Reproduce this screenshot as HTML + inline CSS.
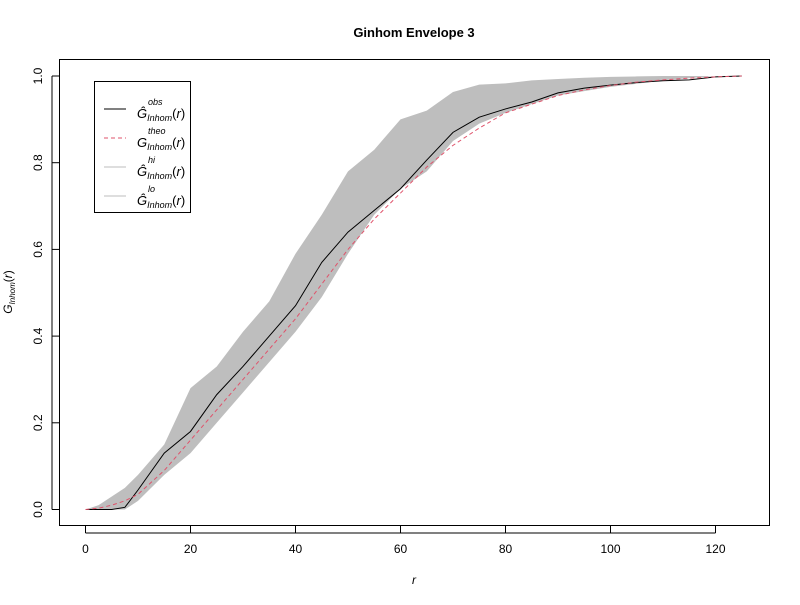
<!DOCTYPE html>
<html><head><meta charset="utf-8"><style>
body{margin:0;background:#fff}
svg text{font-family:"Liberation Sans",Arial,sans-serif}
</style></head><body>
<svg id="chart" width="800" height="600" xmlns="http://www.w3.org/2000/svg">
<rect width="800" height="600" fill="#fff"/>
<text x="414" y="37" text-anchor="middle" font-size="13" font-weight="bold">Ginhom Envelope 3</text>
<g id="plot"></g>
<rect x="59.5" y="59.5" width="710" height="466" fill="none" stroke="#000"/>
<g id="axes" font-size="12"></g>
<text x="414" y="584" text-anchor="middle" font-size="12" font-style="italic">r</text>
<text transform="translate(12,292) rotate(-90)" text-anchor="middle" font-size="12"><tspan font-style="italic">G</tspan><tspan font-size="8" dy="3" font-style="italic">Inhom</tspan><tspan dy="-3">(</tspan><tspan font-style="italic">r</tspan><tspan>)</tspan></text>
<g>
<rect x="94.5" y="81.5" width="96" height="131" fill="#fff" stroke="#000"/>
<line x1="104" y1="109" x2="126" y2="109" stroke="#000"/>
<line x1="104" y1="138" x2="126" y2="138" stroke="#DF536B" stroke-dasharray="4,3"/>
<line x1="104" y1="167" x2="126" y2="167" stroke="#bebebe"/>
<line x1="104" y1="196" x2="126" y2="196" stroke="#bebebe"/>
<g font-size="13" fill="#000">
<text x="137" y="118"><tspan font-style="italic">Ĝ</tspan><tspan font-size="9" dy="3" font-style="italic">Inhom</tspan><tspan dy="-3">(</tspan><tspan font-style="italic">r</tspan>)<tspan x="148" y="105" font-size="9" font-style="italic">obs</tspan></text>
<text x="137" y="147"><tspan font-style="italic">G</tspan><tspan font-size="9" dy="3" font-style="italic">Inhom</tspan><tspan dy="-3">(</tspan><tspan font-style="italic">r</tspan>)<tspan x="148" y="134" font-size="9" font-style="italic">theo</tspan></text>
<text x="137" y="176"><tspan font-style="italic">Ĝ</tspan><tspan font-size="9" dy="3" font-style="italic">Inhom</tspan><tspan dy="-3">(</tspan><tspan font-style="italic">r</tspan>)<tspan x="148" y="163" font-size="9" font-style="italic">hi</tspan></text>
<text x="137" y="205"><tspan font-style="italic">Ĝ</tspan><tspan font-size="9" dy="3" font-style="italic">Inhom</tspan><tspan dy="-3">(</tspan><tspan font-style="italic">r</tspan>)<tspan x="148" y="192" font-size="9" font-style="italic">lo</tspan></text>
</g>
</g>
</svg>
<script>
const rVals=[0,2.5,5,7.5,10,15,20,25,30,35,40,45,50,55,60,65,70,75,80,85,90,95,100,105,110,115,120,125];
const obsVals=[0,0,0,0.005,0.045,0.13,0.18,0.265,0.33,0.40,0.47,0.57,0.64,0.69,0.74,0.806,0.87,0.905,0.924,0.94,0.961,0.972,0.979,0.985,0.989,0.991,0.998,1];
const theoVals=[0,0.003,0.01,0.02,0.035,0.09,0.16,0.23,0.30,0.37,0.44,0.52,0.60,0.67,0.73,0.79,0.84,0.88,0.915,0.935,0.955,0.968,0.978,0.986,0.991,0.995,0.998,1];
const hiVals=[0,0.01,0.03,0.05,0.08,0.15,0.28,0.33,0.41,0.48,0.59,0.68,0.78,0.83,0.90,0.92,0.963,0.98,0.983,0.99,0.993,0.996,0.998,0.999,1,1,1,1];
const loVals=[0,0,0,0,0.02,0.08,0.13,0.20,0.27,0.34,0.41,0.49,0.59,0.68,0.74,0.78,0.85,0.89,0.915,0.935,0.955,0.965,0.975,0.982,0.99,0.995,1,1];
const xTicks=[0,20,40,60,80,100,120];
const yTicks=[0,0.2,0.4,0.6,0.8,1.0];
const NS="http://www.w3.org/2000/svg";
const xs=v=>85.5+v*5.25, ys=v=>509.5-v*433.5;
const plot=document.getElementById('plot'), axes=document.getElementById('axes');
function mk(tag,attrs,parent){const e=document.createElementNS(NS,tag);for(const k in attrs)e.setAttribute(k,attrs[k]);parent.appendChild(e);return e;}
let band=rVals.map((r,i)=>xs(r)+','+ys(hiVals[i])).join(' ')+' '+rVals.map((r,i)=>xs(r)+','+ys(loVals[i])).reverse().join(' ');
const b=mk('polygon',{points:band,fill:'#bebebe',stroke:'none'},plot);


const o=mk('polyline',{points:rVals.map((r,i)=>xs(r)+','+ys(obsVals[i])).join(' '),fill:'none',stroke:'#000','stroke-width':1},plot);


const t=mk('polyline',{points:rVals.map((r,i)=>xs(r)+','+ys(theoVals[i])).join(' '),fill:'none',stroke:'#DF536B','stroke-width':1,'stroke-dasharray':'4,3'},plot);


xTicks.forEach(v=>{const x=xs(v);
 const l=mk('line',{x1:x,y1:525.5,x2:x,y2:533,stroke:'#000'},axes);
 
 
 const tx=mk('text',{x:x,y:553,'text-anchor':'middle'},axes);tx.textContent=v;
 
 });
mk('line',{x1:xs(0),y1:533,x2:xs(120),y2:533,stroke:'#000'},axes);
yTicks.forEach(v=>{const y=ys(v);
 const l=mk('line',{x1:52,y1:y,x2:59.5,y2:y,stroke:'#000'},axes);
 
 
 const tx=mk('text',{transform:`translate(42,${y}) rotate(-90)`,'text-anchor':'middle'},axes);tx.textContent=v.toFixed(1);
 
 });
mk('line',{x1:52,y1:ys(0),x2:52,y2:ys(1),stroke:'#000'},axes);
</script>
</body></html>
